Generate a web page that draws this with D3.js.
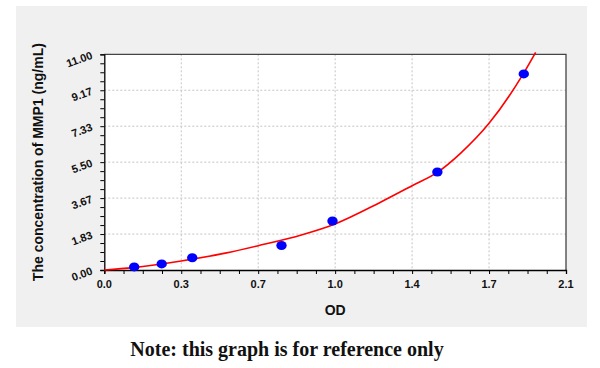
<!DOCTYPE html>
<html><head><meta charset="utf-8">
<script src="https://cdn.jsdelivr.net/npm/d3@7"></script>
<style>body{margin:0;background:#fff}svg{display:block}</style>
</head><body>
<script>
// Data
const pointOD = [0.136, 0.261, 0.400, 0.806, 1.038, 1.515, 1.908];
const pointConc = [0.156, 0.312, 0.625, 1.25, 2.5, 5, 10];
const curveOD = [0, 0.13, 0.35, 0.55, 0.7, 0.9, 1.05, 1.25, 1.4, 1.52, 1.62, 1.75, 1.9, 1.962];
const curveConc = [0, 0.12, 0.46, 0.86, 1.24, 1.8, 2.35, 3.42, 4.3, 5.02, 5.95, 7.48, 9.9, 11.1];
const xTicks = [0, 0.35, 0.7, 1.05, 1.4, 1.75, 2.1];
const xTickLabels = ["0.0", "0.3", "0.7", "1.0", "1.4", "1.7", "2.1"];
const yTicks = [0, 11/6, 22/6, 33/6, 44/6, 55/6, 11];
const yTickLabels = ["0.00", "1.83", "3.67", "5.50", "7.33", "9.17", "11.00"];

const W = 600, H = 368;
const svg = d3.select("body").append("svg").attr("width", W).attr("height", H);
svg.append("rect").attr("x", 16).attr("y", 6).attr("width", 571).attr("height", 321).attr("fill", "#f0f0f0");

const L = 104.3, R = 566, T = 54.3, B = 270;
const x = d3.scaleLinear().domain([0, 2.1]).range([L, R]);
const y = d3.scaleLinear().domain([0, 11]).range([B, T]);

svg.append("rect").attr("x", L).attr("y", T).attr("width", R - L).attr("height", B - T).attr("fill", "#fff");

// grid
const g = svg.append("g");
g.selectAll(".gx").data(xTicks.slice(1, -1)).enter().append("line")
  .attr("x1", d => x(d)).attr("x2", d => x(d)).attr("y1", T).attr("y2", B)
  .attr("stroke", "#c4c4c4").attr("stroke-dasharray", "2,2").attr("stroke-width", 1);
g.selectAll(".gy").data(yTicks.slice(1, -1)).enter().append("line")
  .attr("y1", d => y(d)).attr("y2", d => y(d)).attr("x1", L).attr("x2", R)
  .attr("stroke", "#c4c4c4").attr("stroke-dasharray", "2,2").attr("stroke-width", 1);

// border top/right
svg.append("path").attr("d", `M${L},${T}H${R}V${B}`).attr("fill", "none").attr("stroke", "#444").attr("stroke-width", 1.3);

// minor ticks
const xMinor = d3.range(0, 25).map(i => i * 2.1 / 24);
const yMinor = d3.range(0, 25).map(i => i * 11 / 24);

const xAxis = d3.axisBottom(x).tickValues(xMinor).tickSize(4).tickFormat("");
const xa = svg.append("g").attr("transform", `translate(0,${B})`).call(xAxis);
xa.select(".domain").attr("stroke", "#000").attr("stroke-width", 1.3);
xa.selectAll(".tick line").attr("stroke", "#000").attr("stroke-width", 1);

const yAxis = d3.axisLeft(y).tickValues(yMinor).tickSize(4).tickFormat("");
const ya = svg.append("g").attr("transform", `translate(${L},0)`).call(yAxis);
ya.select(".domain").attr("stroke", "#000").attr("stroke-width", 1.3);
ya.selectAll(".tick line").attr("stroke", "#000").attr("stroke-width", 1);

// tick labels
svg.selectAll(".xl").data(xTicks).enter().append("text")
  .attr("x", d => x(d)).attr("y", B + 18).attr("text-anchor", "middle")
  .attr("font-family", "Liberation Sans, Arial, sans-serif").attr("font-weight", "bold").attr("font-size", 11)
  .attr("fill", "#111").text((d, i) => xTickLabels[i]);

svg.selectAll(".yl").data(yTicks).enter().append("text")
  .attr("transform", d => `translate(${L - 11},${y(d) + 4}) rotate(-20)`)
  .attr("text-anchor", "end")
  .attr("font-family", "Liberation Sans, Arial, sans-serif").attr("font-weight", "bold").attr("font-size", 11)
  .attr("fill", "#111").text((d, i) => yTickLabels[i]);

// axis titles
svg.append("text").attr("x", (L + R) / 2).attr("y", 315).attr("text-anchor", "middle")
  .attr("font-family", "Liberation Sans, Arial, sans-serif").attr("font-weight", "bold").attr("font-size", 14)
  .attr("fill", "#111").text("OD");
svg.append("text").attr("transform", `translate(43,${(T + B) / 2}) rotate(-90)`).attr("text-anchor", "middle")
  .attr("font-family", "Liberation Sans, Arial, sans-serif").attr("font-weight", "bold").attr("font-size", 14)
  .attr("fill", "#111").text("The concentration of MMP1 (ng/mL)");

// curve
const line = d3.line().x(d => x(d[0])).y(d => y(d[1])).curve(d3.curveMonotoneX);
svg.append("path").datum(curveOD.map((d, i) => [d, curveConc[i]]))
  .attr("d", line).attr("fill", "none").attr("stroke", "#f00").attr("stroke-width", 1.6);

// points
svg.selectAll(".pt").data(pointOD).enter().append("ellipse")
  .attr("cx", d => x(d)).attr("cy", (d, i) => y(pointConc[i])).attr("rx", 5.2).attr("ry", 4.5).attr("fill", "#0000ff");

// note
svg.append("text").attr("x", 287).attr("y", 356).attr("text-anchor", "middle")
  .attr("font-family", "Liberation Serif, DejaVu Serif, serif").attr("font-weight", "bold").attr("font-size", 20)
  .attr("fill", "#111").text("Note: this graph is for reference only");
</script>
</body></html>
